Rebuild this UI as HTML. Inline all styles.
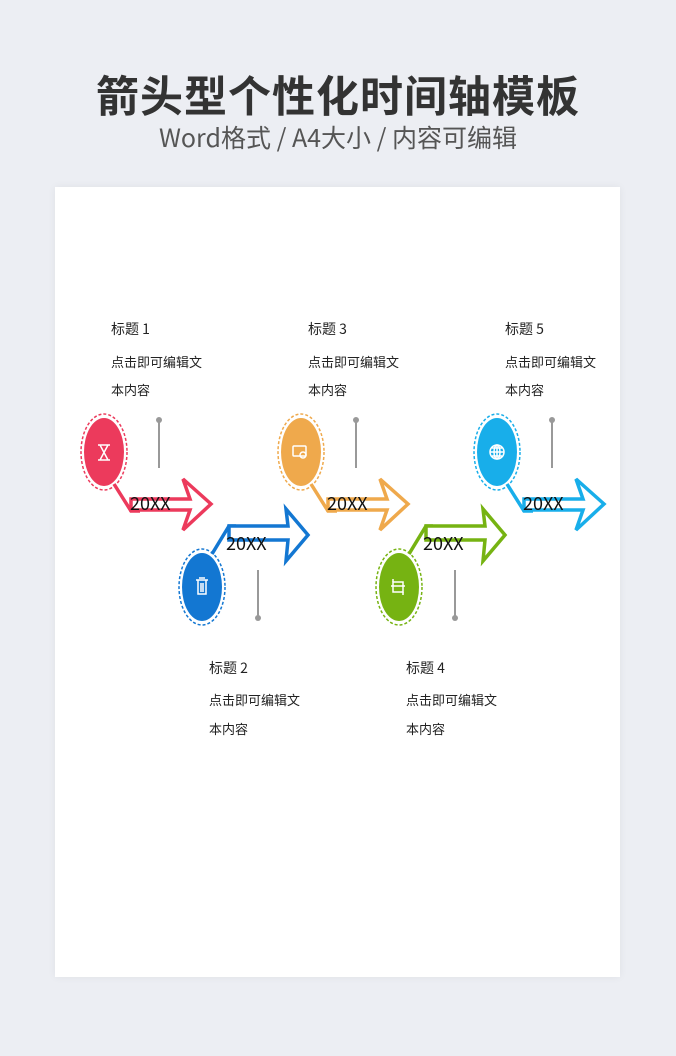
<!DOCTYPE html>
<html><head><meta charset="utf-8"><style>
body{margin:0;width:676px;height:1056px;background:#eceef3;font-family:"Liberation Sans","Noto Sans CJK SC",sans-serif;position:relative;overflow:hidden}
.t{position:absolute;left:0;width:676px;text-align:center}
.page{position:absolute;left:55px;top:187px;width:565px;height:790px;background:#fff;box-shadow:0 0 8px rgba(0,0,0,0.06)}
svg{position:absolute;left:0;top:0}
</style></head><body>
<div class="t" style="top:63px;font-size:43px;font-weight:bold;color:#333;letter-spacing:1px;font-family:'Noto Sans CJK SC',sans-serif">箭头型个性化时间轴模板</div>
<div class="t" style="top:119px;font-size:25px;color:#555;font-family:'Noto Sans CJK SC',sans-serif">Word格式 / A4大小 / 内容可编辑</div>
<div class="page"></div>
<svg width="676" height="1056" font-family="'Noto Sans CJK SC',sans-serif">
<defs>
<g id="up">
<line x1="159" y1="420" x2="159" y2="468" stroke="#999" stroke-width="2"/><circle cx="159" cy="420" r="3" fill="#999"/>
<polyline points="114,484 131,511 140,511" fill="none" stroke-width="3.5" stroke="currentColor"/>
<polygon points="131,499 190,499 183,479 211,504 183,530 190,510 131,510" fill="#fff" stroke="currentColor" stroke-width="3.5" stroke-linejoin="miter"/>
<ellipse cx="104" cy="452" rx="23" ry="38" fill="none" stroke="currentColor" stroke-width="1.5" stroke-dasharray="3,2"/>
<ellipse cx="104" cy="452" rx="20" ry="34" fill="currentColor"/>
<text x="130" y="510" font-size="18" font-family="'Noto Sans CJK SC',sans-serif" fill="#111">20XX</text>
</g>
<g id="dn">
<line x1="258" y1="570" x2="258" y2="618" stroke="#999" stroke-width="2"/><circle cx="258" cy="618" r="3" fill="#999"/>
<polyline points="212,554 229,526 236,526" fill="none" stroke-width="3.5" stroke="currentColor"/>
<polygon points="229,526 288,526 286,509 308,535 286,561 288,540 229,540" fill="#fff" stroke="currentColor" stroke-width="3.5"/>
<ellipse cx="202" cy="587" rx="23" ry="38" fill="none" stroke="currentColor" stroke-width="1.5" stroke-dasharray="3,2"/>
<ellipse cx="202" cy="587" rx="20" ry="34" fill="currentColor"/>
<text x="226" y="550" font-size="18" font-family="'Noto Sans CJK SC',sans-serif" fill="#111">20XX</text>
</g>
</defs>
<use href="#up" color="#ec3a5c"/>
<use href="#up" color="#efa94c" x="197"/>
<use href="#up" color="#18aeea" x="393"/>
<use href="#dn" color="#1377d2"/>
<use href="#dn" color="#76b312" x="197"/>
<g fill="none" stroke="#fff" stroke-width="1.5">
<path d="M98,445h12M98,460h12M100,445l8,15M108,445l-8,15"/>
<path d="M196,580h12M198,580v14h8v-14M201,583v9M203,583v9M199,578h6"/>
<rect x="293" y="446" width="13" height="10" rx="1"/><circle cx="303" cy="455" r="3"/>
<rect x="393" y="582" width="10" height="10"/><path d="M391,586h14M393,579v3M403,592v3"/>
<circle cx="497" cy="452" r="7"/><path d="M490,452h14M497,445v14M492,448h10M492,456h10"/><ellipse cx="497" cy="452" rx="3" ry="7"/>
</g>
<g font-size="14" fill="#222">
<text x="111" y="334">标题 1</text><text x="308" y="334">标题 3</text><text x="505" y="334">标题 5</text>
<text x="209" y="673">标题 2</text><text x="406" y="673">标题 4</text>
</g>
<g font-size="13" fill="#222">
<text x="111" y="367">点击即可编辑文</text><text x="111" y="395">本内容</text>
<text x="308" y="367">点击即可编辑文</text><text x="308" y="395">本内容</text>
<text x="505" y="367">点击即可编辑文</text><text x="505" y="395">本内容</text>
<text x="209" y="705">点击即可编辑文</text><text x="209" y="734">本内容</text>
<text x="406" y="705">点击即可编辑文</text><text x="406" y="734">本内容</text>
</g>
</svg>
</body></html>
